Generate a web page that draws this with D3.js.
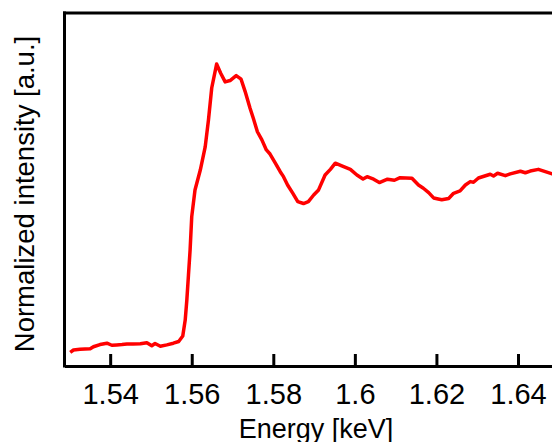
<!DOCTYPE html>
<html>
<head>
<meta charset="utf-8">
<script src="https://cdn.jsdelivr.net/npm/d3@7"></script>
<style>
  body { margin: 0; background: #fff; }
  svg { display: block; font-family: "Liberation Sans", Arial, sans-serif; }
</style>
</head>
<body>
<div id="chart"></div>
<script>
// energy [keV] and normalized intensity
var energy = [1.5302, 1.5310, 1.5326, 1.5351, 1.5359, 1.5375, 1.5392, 1.5404, 1.5416, 1.5429,
  1.5441, 1.5456, 1.5474, 1.5490, 1.5502, 1.5510, 1.5523, 1.5539, 1.5555, 1.5568,
  1.5578, 1.5584, 1.5588, 1.5592, 1.5596, 1.5600, 1.5608, 1.5621, 1.5633, 1.5641,
  1.5649, 1.5661, 1.5671, 1.5682, 1.5694, 1.5709, 1.5721, 1.5731, 1.5743, 1.5751,
  1.5761, 1.5772, 1.5783, 1.5792, 1.5805, 1.5817, 1.5825, 1.5835, 1.5848, 1.5860,
  1.5874, 1.5886, 1.5899, 1.5911, 1.5927, 1.5940, 1.5952, 1.5968, 1.5989, 1.6005,
  1.6020, 1.6030, 1.6046, 1.6060, 1.6080, 1.6097, 1.6111, 1.6140, 1.6156, 1.6168,
  1.6181, 1.6193, 1.6213, 1.6230, 1.6242, 1.6258, 1.6271, 1.6283, 1.6291, 1.6303,
  1.6332, 1.6340, 1.6350, 1.6369, 1.6381, 1.6406, 1.6418, 1.6430, 1.6450, 1.6484,
  1.6510];
var intensity = [-0.040, -0.026, -0.022, -0.019, -0.007, 0.006, 0.014, 0.002, 0.004, 0.006,
  0.009, 0.009, 0.011, 0.017, -0.001, 0.012, -0.004, 0.004, 0.014, 0.024,
  0.056, 0.150, 0.268, 0.415, 0.562, 0.758, 0.915, 1.032, 1.168, 1.326,
  1.514, 1.655, 1.601, 1.550, 1.558, 1.587, 1.566, 1.493, 1.395, 1.336,
  1.257, 1.209, 1.150, 1.126, 1.072, 1.022, 0.993, 0.944, 0.895, 0.846,
  0.835, 0.846, 0.885, 0.915, 1.003, 1.036, 1.072, 1.056, 1.036, 1.003,
  0.979, 0.993, 0.978, 0.958, 0.978, 0.972, 0.987, 0.984, 0.944, 0.925,
  0.899, 0.868, 0.857, 0.865, 0.895, 0.909, 0.944, 0.964, 0.960, 0.985,
  1.007, 0.997, 1.013, 0.999, 1.009, 1.025, 1.016, 1.026, 1.036, 1.009,
  1.000];
var xTicks = [1.54, 1.56, 1.58, 1.6, 1.62, 1.64];
var xTickLabels = ["1.54", "1.56", "1.58", "1.6", "1.62", "1.64"];

var W = 552, H = 442;
// plot box (right edge runs past the window)
var plotLeft = 64.5, plotTop = 13, plotBottom = 366, plotRight = 602;

var svg = d3.select("#chart").append("svg")
  .attr("width", W)
  .attr("height", H);

var x = d3.scaleLinear()
  .domain([1.5288, 1.6606])
  .range([plotLeft, plotRight]);

var y = d3.scaleLinear()
  .domain([-0.12, 1.955])
  .range([plotBottom, plotTop]);

var data = energy.map(function(e, i) { return {e: e, v: intensity[i]}; });

svg.append("clipPath").attr("id", "clip")
  .append("rect")
  .attr("x", plotLeft).attr("y", plotTop)
  .attr("width", plotRight - plotLeft).attr("height", plotBottom - plotTop);

svg.append("path")
  .datum(data)
  .attr("clip-path", "url(#clip)")
  .attr("fill", "none")
  .attr("stroke", "#ff0000")
  .attr("stroke-width", 3.5)
  .attr("stroke-linejoin", "round")
  .attr("d", d3.line()
    .x(function(d) { return x(d.e); })
    .y(function(d) { return y(d.v); }));

// bottom axis, ticks point inward
var gx = svg.append("g")
  .attr("transform", "translate(0," + plotBottom + ")")
  .call(d3.axisBottom(x)
    .tickValues(xTicks)
    .tickFormat(function(d, i) { return xTickLabels[i]; })
    .tickSize(-12)
    .tickSizeOuter(0)
    .tickPadding(17));
gx.select(".domain").attr("stroke", "#000").attr("stroke-width", 3);
gx.selectAll(".tick line").attr("stroke", "#000").attr("stroke-width", 3);
gx.selectAll(".tick text")
  .attr("fill", "#000")
  .style("font-size", "29px")
  .style("font-family", "'Liberation Sans', Arial, sans-serif");

// left and top frame lines
svg.append("line")
  .attr("x1", plotLeft).attr("x2", plotLeft)
  .attr("y1", plotTop - 1.5).attr("y2", plotBottom + 1.5)
  .attr("stroke", "#000").attr("stroke-width", 3);
svg.append("line")
  .attr("x1", plotLeft - 1.5).attr("x2", plotRight)
  .attr("y1", plotTop).attr("y2", plotTop)
  .attr("stroke", "#000").attr("stroke-width", 3);

svg.append("text")
  .attr("x", 316)
  .attr("y", 438)
  .attr("text-anchor", "middle")
  .style("font-size", "27px")
  .text("Energy [keV]");

svg.append("text")
  .attr("transform", "translate(33.5,194) rotate(-90)")
  .attr("text-anchor", "middle")
  .style("font-size", "27.5px")
  .text("Normalized intensity [a.u.]");
</script>
</body>
</html>
